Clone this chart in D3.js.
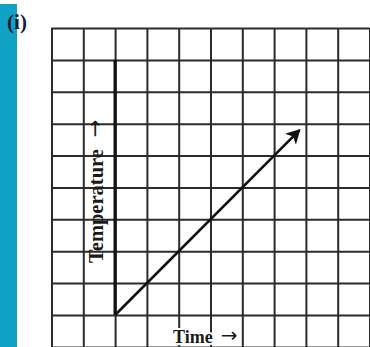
<!DOCTYPE html>
<html>
<head>
<meta charset="utf-8">
<script src="https://cdn.jsdelivr.net/npm/d3@7"></script>
<style>
  body { margin: 0; background: #fff; }
  svg { display: block; }
</style>
</head>
<body>
<div id="chart"></div>
<script>
// grid positions in "cell" units, origin at the axis corner
const xTicks = [-2, -1, 0, 1, 2, 3, 4, 5, 6, 7, 8];
const yTicks = [-1, 0, 1, 2, 3, 4, 5, 6, 7, 8, 9];
const yAxisExtent = [0, 8];
const arrowPoints = [[0, 0], [5.8, 5.8]];
const xLabel = "Time";
const yLabel = "Temperature";
const labelArrow = "\u2192";
const panelLabel = "(i)";

const W = 370, H = 347;
const serif = "'Liberation Serif', 'Times New Roman', serif";

const svg = d3.select("#chart")
  .append("svg")
    .attr("width", W)
    .attr("height", H);

// teal side bar
svg.append("rect")
  .attr("x", 0).attr("y", 4)
  .attr("width", 17).attr("height", H - 4)
  .attr("fill", "#10a2c4");

// panel label
svg.append("text")
  .attr("x", 17).attr("y", 29)
  .attr("text-anchor", "middle")
  .style("font-family", serif)
  .style("font-weight", "bold")
  .style("font-size", "21px")
  .style("fill", "#1c1c3a")
  .text(panelLabel);

const x = d3.scaleLinear().domain([-2, 8]).range([51.5, 369.5]);
const y = d3.scaleLinear().domain([0, 9]).range([315, 28]);

const gridTop = y(9), gridBottom = y(-1);
const gridLeft = x(-2), gridRight = x(8);

// vertical grid lines
svg.append("g")
  .attr("class", "x grid")
  .attr("transform", `translate(0,${gridBottom})`)
  .call(d3.axisBottom(x)
    .tickValues(xTicks)
    .tickSize(-(gridBottom - gridTop))
    .tickFormat(""))
  .call(g => g.select(".domain").remove())
  .selectAll("line")
    .style("stroke", "#2b2b2b")
    .style("stroke-width", 2);

// horizontal grid lines
svg.append("g")
  .attr("class", "y grid")
  .attr("transform", `translate(${gridLeft},0)`)
  .call(d3.axisLeft(y)
    .tickValues(yTicks)
    .tickSize(-(gridRight - gridLeft))
    .tickFormat(""))
  .call(g => g.select(".domain").remove())
  .selectAll("line")
    .style("stroke", "#2b2b2b")
    .style("stroke-width", 2);

// thick temperature axis
svg.append("line")
  .attr("x1", x(0)).attr("x2", x(0))
  .attr("y1", y(yAxisExtent[0])).attr("y2", y(yAxisExtent[1]))
  .style("stroke", "#111")
  .style("stroke-width", 3.2);

// arrow head marker
svg.append("defs").append("marker")
  .attr("id", "head")
  .attr("viewBox", "0 0 12 12")
  .attr("refX", 10).attr("refY", 6)
  .attr("markerWidth", 6).attr("markerHeight", 6)
  .attr("markerUnits", "strokeWidth")
  .attr("orient", "auto")
  .append("path")
    .attr("d", "M0,0 L11,6 L0,12 L3,6 Z")
    .attr("fill", "#111");

// the diagonal arrow
svg.append("path")
  .datum(arrowPoints)
  .attr("d", d3.line().x(d => x(d[0])).y(d => y(d[1])))
  .attr("fill", "none")
  .style("stroke", "#111")
  .style("stroke-width", 2.6)
  .attr("marker-end", "url(#head)");

// axis labels
const yText = svg.append("text")
  .attr("transform", `translate(103,263) rotate(-90)`)
  .style("font-family", serif)
  .style("font-weight", "bold")
  .style("font-size", "20.5px")
  .style("fill", "#1a1a1a");
yText.append("tspan").text(yLabel);
yText.append("tspan")
  .attr("dx", 12)
  .attr("dy", -1)
  .style("font-family", "'DejaVu Sans', sans-serif")
  .style("font-weight", "normal")
  .style("font-size", "21px")
  .text(labelArrow);

const xText = svg.append("text")
  .attr("x", 173).attr("y", 343)
  .style("font-family", serif)
  .style("font-weight", "bold")
  .style("font-size", "18px")
  .style("fill", "#1a1a1a")
  .style("stroke", "#fff")
  .style("stroke-width", 4)
  .style("paint-order", "stroke");
xText.append("tspan").text(xLabel);
xText.append("tspan")
  .attr("dx", 8)
  .attr("dy", -1)
  .style("font-family", "'DejaVu Sans', sans-serif")
  .style("font-weight", "normal")
  .style("font-size", "20px")
  .text(labelArrow);
</script>
</body>
</html>
